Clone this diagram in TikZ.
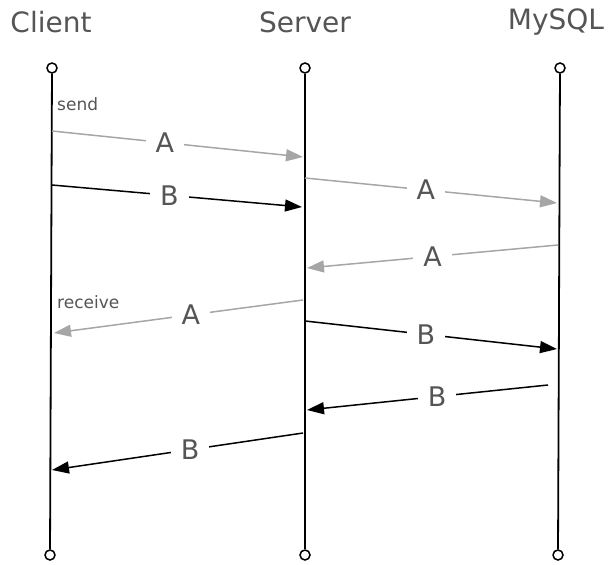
\documentclass[tikz,border=0pt]{standalone}
\usepackage{fontspec}
\setmainfont{DejaVu Sans}
\usetikzlibrary{arrows.meta}
\definecolor{msggray}{HTML}{A6A6A6}
\definecolor{txtgray}{HTML}{555555}
\begin{document}
\begin{tikzpicture}
  [x=1pt,y=-1pt,
   title/.style={text=txtgray,font=\fontsize{28}{28}\selectfont,inner sep=0pt},
   endpt/.style={circle,draw,line width=1.5pt,inner sep=0pt,minimum size=10pt,fill=white},
   life/.style={line width=1.8pt},
   msg/.style={line width=1.5pt,-{Triangle[length=17pt,width=12pt]}},
   msga/.style={msg,msggray},
   lbl/.style={fill=white,text=txtgray,font=\fontsize{27}{27}\selectfont,inner xsep=10pt,inner ysep=2pt},
   note/.style={text=txtgray,font=\fontsize{17}{17}\selectfont,inner sep=0pt,anchor=west}]
  \useasboundingbox (0,0) rectangle (611,565);
  \foreach \n/\t/\xt in {client/Client/51, server/Server/305, mysql/MySQL/556} {
    \node[title] (\n) at (\xt,22) {\t};
  }
  \foreach \n/\xt/\xb in {client/52/50, server/305/305, mysql/560/558} {
    \node[endpt] (\n top) at (\xt,68) {};
    \node[endpt] (\n bot) at (\xb,555) {};
    \draw[life] (\n top) -- (\n bot);
  }
  \foreach \n/\x/\y in {c1/52/131, s1/303/157, c2/52/185, s2/302/207,
                        s3/305/178, m3/557/203, m4/558/245, s4/307/268,
                        s5/303/300, c5/54/333, s6/305/321, m6/557/349,
                        m7/548/385, s7/307/410, s8/303/433, c8/52/470}
    \coordinate (\n) at (\x,\y);
  \draw[msga] (c1) -- node[lbl,pos=0.45] (a1) {A} (s1);
  \draw[msg]  (c2) -- node[lbl,pos=0.47] (b1) {B} (s2);
  \draw[msga] (s3) -- node[lbl,pos=0.48] (a2) {A} (m3);
  \draw[msga] (m4) -- node[lbl,pos=0.5]  (a3) {A} (s4);
  \draw[msga] (s5) -- node[lbl,pos=0.45] (a4) {A} (c5);
  \draw[msg]  (s6) -- node[lbl,pos=0.48] (b2) {B} (m6);
  \draw[msg]  (m7) -- node[lbl,pos=0.46] (b3) {B} (s7);
  \draw[msg]  (s8) -- node[lbl,pos=0.45] (b4) {B} (c8);
  \node[note] (send) at (57,104) {send};
  \node[note] (receive) at (57,302) {receive};
\end{tikzpicture}
\end{document}
